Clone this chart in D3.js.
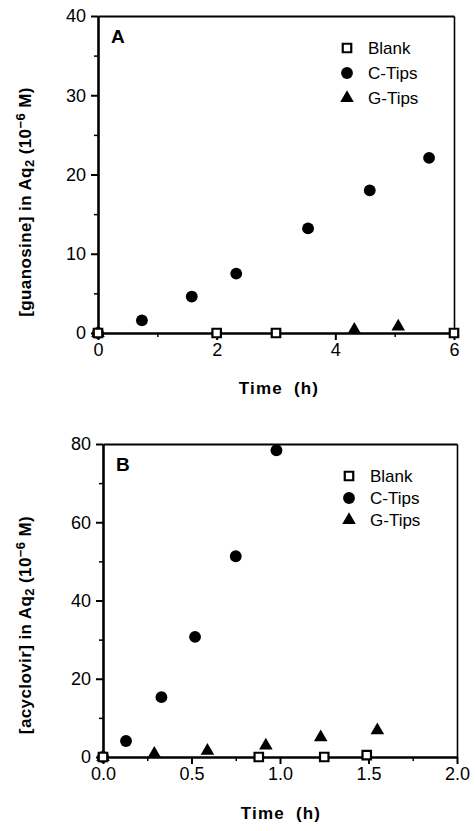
<!DOCTYPE html>
<html>
<head>
<meta charset="utf-8">
<script src="https://cdn.jsdelivr.net/npm/d3@7"></script>
<style>
  body { margin: 0; background: #fff; }
  text { font-family: "Liberation Sans", Arial, sans-serif; fill: #000; }
</style>
</head>
<body>
<div id="chart"></div>
<script>
// panel A - guanosine
var seriesNames = ["Blank", "C-Tips", "G-Tips"];

var timeA_blank = [0, 2, 3, 6];
var valA_blank  = [0, 0, 0, 0];
var timeA_c = [0, 0.74, 1.58, 2.33, 3.54, 4.58, 5.58];
var valA_c  = [0, 1.6, 4.6, 7.5, 13.2, 18.0, 22.1];
var timeA_g = [0, 4.32, 5.06];
var valA_g  = [0, 0.4, 0.8];

var xTicksA = [0, 2, 4, 6];
var xMinorA = [1, 3, 5];
var yTicksA = [0, 10, 20, 30, 40];
var yMinorA = [5, 15, 25, 35];

// panel B - acyclovir
var timeB_blank = [0, 0.88, 1.25, 1.49];
var valB_blank  = [0, 0, 0, 0.5];
var timeB_c = [0, 0.13, 0.33, 0.52, 0.75, 0.98];
var valB_c  = [0, 4.1, 15.3, 30.7, 51.3, 78.4];
var timeB_g = [0, 0.29, 0.59, 0.92, 1.23, 1.55];
var valB_g  = [0, 0.8, 1.6, 2.9, 5.0, 6.8];

var xTicksB = [0, 0.5, 1.0, 1.5, 2.0];
var xMinorB = [0.25, 0.75, 1.25, 1.75];
var yTicksB = [0, 20, 40, 60, 80];
var yMinorB = [10, 30, 50, 70];

var svg = d3.select("#chart").append("svg")
    .attr("width", 475)
    .attr("height", 831);

function drawPanel(p) {
    var x = d3.scaleLinear().domain(p.xDomain).range([p.left, p.right]);
    var y = d3.scaleLinear().domain(p.yDomain).range([p.bottom, p.top]);
    var g = svg.append("g");

    // frame top / right
    g.append("g").attr("transform", "translate(0," + p.top + ")")
        .call(d3.axisTop(x).tickValues([]).tickSizeOuter(0))
        .select(".domain").attr("stroke-width", 1.8);
    g.append("g").attr("transform", "translate(" + p.right + ",0)")
        .call(d3.axisRight(y).tickValues([]).tickSizeOuter(0))
        .select(".domain").attr("stroke-width", 1.6);

    // minor ticks
    g.append("g").attr("transform", "translate(0," + p.bottom + ")")
        .call(d3.axisBottom(x).tickValues(p.xMinor).tickSize(4).tickFormat("").tickSizeOuter(0))
        .call(a => a.selectAll("line").attr("stroke-width", 1.5));
    g.append("g").attr("transform", "translate(" + p.left + ",0)")
        .call(d3.axisLeft(y).tickValues(p.yMinor).tickSize(4).tickFormat("").tickSizeOuter(0))
        .call(a => a.selectAll("line").attr("stroke-width", 1.5));

    // major axes
    var xa = g.append("g").attr("transform", "translate(0," + p.bottom + ")")
        .call(d3.axisBottom(x).tickValues(p.xTicks).tickSize(7).tickPadding(3)
            .tickFormat(p.xFmt).tickSizeOuter(0));
    var ya = g.append("g").attr("transform", "translate(" + p.left + ",0)")
        .call(d3.axisLeft(y).tickValues(p.yTicks).tickSize(7).tickPadding(5).tickSizeOuter(0));
    [xa, ya].forEach(function(a) {
        a.select(".domain").attr("stroke-width", 2.6);
        a.selectAll("line").attr("stroke-width", 2);
        a.selectAll("text").style("font-size", "18px");
    });

    // panel letter
    g.append("text").attr("x", p.left + 13).attr("y", p.top + 27)
        .style("font-size", "19px").style("font-weight", "bold").text(p.letter);

    // axis titles
    g.append("text").attr("x", p.xTitleX).attr("y", p.xTitleY)
        .attr("text-anchor", "middle")
        .style("font-size", "17px").style("font-weight", "bold")
        .style("letter-spacing", "1.2px").style("word-spacing", "5px")
        .text("Time (h)");

    var yt = g.append("text")
        .attr("transform", "translate(" + p.yTitleX + "," + p.yTitleY + ") rotate(-90)")
        .attr("text-anchor", "middle")
        .style("font-size", "17px").style("font-weight", "bold")
        .style("letter-spacing", "0.4px");
    yt.append("tspan").text(p.yTitle + " in Aq");
    yt.append("tspan").attr("baseline-shift", "-25%").style("font-size", "13px").text("2");
    yt.append("tspan").text(" (10");
    yt.append("tspan").attr("baseline-shift", "45%").style("font-size", "13px").text("\u22126");
    yt.append("tspan").text(" M)");

    // points
    var sq = d3.symbol().type(d3.symbolSquare).size(72);
    var ci = d3.symbol().type(d3.symbolCircle).size(110);
    var tr = d3.symbol().type(d3.symbolTriangle).size(80);

    var blank = p.blankT.map((t, i) => [t, p.blankV[i]]);
    var cTips = p.cT.map((t, i) => [t, p.cV[i]]);
    var gTips = p.gT.map((t, i) => [t, p.gV[i]]);

    g.append("g").selectAll("path").data(cTips).enter().append("path")
        .attr("d", ci).attr("fill", "#000")
        .attr("transform", d => "translate(" + x(d[0]) + "," + y(d[1]) + ")");
    g.append("g").selectAll("path").data(gTips).enter().append("path")
        .attr("d", tr).attr("fill", "#000")
        .attr("transform", d => "translate(" + x(d[0]) + "," + y(d[1]) + ")");
    g.append("g").selectAll("path").data(blank).enter().append("path")
        .attr("d", sq).attr("fill", "#fff").attr("stroke", "#000").attr("stroke-width", 2.2)
        .attr("transform", d => "translate(" + x(d[0]) + "," + y(d[1]) + ")");

    // legend
    var shapes = [sq, ci, tr];
    var lg = g.append("g").selectAll("g").data(seriesNames).enter().append("g")
        .attr("transform", (d, i) => "translate(" + p.legX + "," + (p.legY + i * p.legGap) + ")");
    lg.append("path").attr("d", (d, i) => shapes[i]())
        .attr("fill", (d, i) => i === 0 ? "#fff" : "#000")
        .attr("stroke", (d, i) => i === 0 ? "#000" : "none")
        .attr("stroke-width", 2.2);
    lg.append("text").attr("x", 21).attr("dy", "0.35em")
        .style("font-size", "17px").text(d => d);
}

drawPanel({
    letter: "A", yTitle: "[guanosine]",
    xDomain: [0, 6], yDomain: [0, 40],
    left: 98, right: 454, top: 16, bottom: 333,
    xTicks: xTicksA, xMinor: xMinorA, yTicks: yTicksA, yMinor: yMinorA,
    xFmt: d3.format("d"),
    blankT: timeA_blank, blankV: valA_blank, cT: timeA_c, cV: valA_c, gT: timeA_g, gV: valA_g,
    legX: 347, legY: 48, legGap: 25,
    xTitleX: 279, xTitleY: 394, yTitleX: 31, yTitleY: 202
});

drawPanel({
    letter: "B", yTitle: "[acyclovir]",
    xDomain: [0, 2], yDomain: [0, 80],
    left: 103, right: 457, top: 444, bottom: 757,
    xTicks: xTicksB, xMinor: xMinorB, yTicks: yTicksB, yMinor: yMinorB,
    xFmt: d3.format(".1f"),
    blankT: timeB_blank, blankV: valB_blank, cT: timeB_c, cV: valB_c, gT: timeB_g, gV: valB_g,
    legX: 349, legY: 476, legGap: 22,
    xTitleX: 281, xTitleY: 819, yTitleX: 31, yTitleY: 625
});
</script>
</body>
</html>
